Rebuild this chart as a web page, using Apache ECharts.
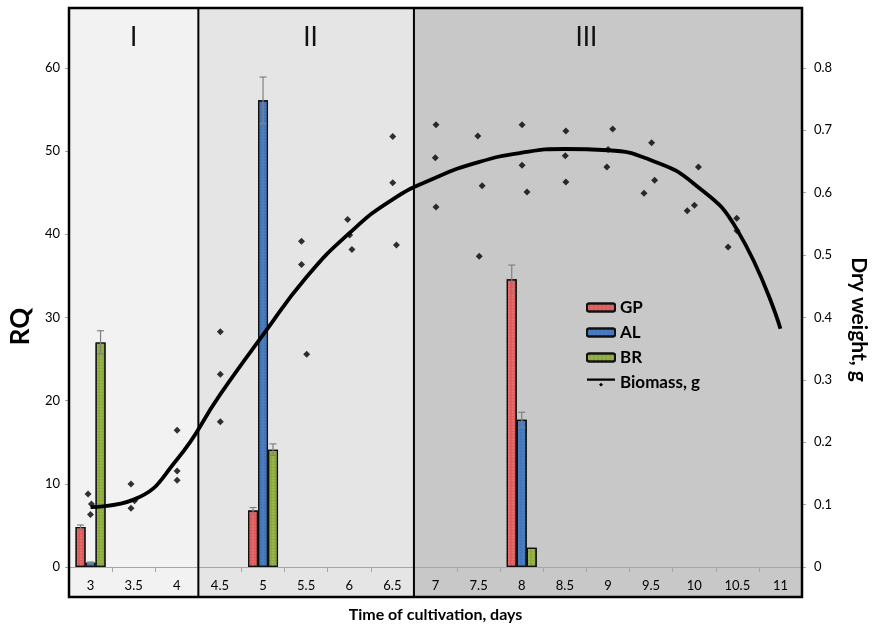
<!DOCTYPE html>
<html><head><meta charset="utf-8">
<script src="https://cdn.jsdelivr.net/npm/echarts@6/dist/echarts.min.js"></script>
<style>html,body{margin:0;padding:0;background:#fff}#c{width:877px;height:628px}</style>
</head><body><div id="c"></div>
<script>
// ---- data ----
const days = ['3','3.5','4','4.5','5','5.5','6','6.5','7','7.5','8','8.5','9','9.5','10','10.5','11'];
const gp    = [4.8, null, null, null, 6.8, null, null, null, null, null, 34.6, null, null, null, null, null, null];
const gpErr = [0.25, null, null, null, 0.35, null, null, null, null, null, 1.7, null, null, null, null, null, null];
const al    = [0.5, null, null, null, 56.1, null, null, null, null, null, 17.7, null, null, null, null, null, null];
const alErr = [0.1, null, null, null, 2.8, null, null, null, null, null, 0.9, null, null, null, null, null, null];
const br    = [27.0, null, null, null, 14.1, null, null, null, null, null, 2.3, null, null, null, null, null, null];
const brErr = [1.4, null, null, null, 0.7, null, null, null, null, null, 0, null, null, null, null, null, null];
const biomassFit = [0.096,0.108,0.172,0.276,0.372,0.464,0.535,0.589,0.624,0.649,0.664,0.670,0.668,0.652,0.614,0.540,0.382];
const biomassX = [2.971,3.010,2.999,3.469,3.510,3.469,4.004,4.004,4.004,4.505,4.505,4.505,5.446,5.446,5.506,5.981,6.004,6.031,6.504,6.504,6.547,7.006,6.998,7.006,7.491,7.541,7.507,8.004,8.004,8.061,8.512,8.505,8.512,9.055,9.001,8.987,9.506,9.541,9.418,10.049,10.003,9.919,10.493,10.496,10.393];
const biomassY = [0.117,0.101,0.084,0.133,0.106,0.094,0.219,0.154,0.139,0.377,0.309,0.233,0.522,0.485,0.341,0.557,0.532,0.509,0.690,0.616,0.516,0.709,0.656,0.577,0.691,0.611,0.498,0.709,0.644,0.601,0.699,0.659,0.617,0.702,0.669,0.641,0.680,0.620,0.599,0.641,0.580,0.571,0.559,0.539,0.513];
const sectionNames = ['I','II','III'];
const sectionBounds = [2.75, 4.25, 6.75, 11.25];
const sectionLabelAt = [3.5, 5.55, 8.75];
const rqTicks = {min:0, max:67.2, interval:10};
const dwTicks = {min:0, max:0.896, interval:0.1};

// ---- styles ----
const FONT = 'Lato';
const sectionFill = ['#f2f2f2','#e5e5e5','#c8c8c8'];
const BARW = 10;

function errData(vals, errs){
  const out = [];
  vals.forEach((v,i)=>{ if (v!=null && errs[i]) out.push([i, v, errs[i]]); });
  return out;
}
function errRender(offset){
  return function(params, api){
    const i = api.value(0), v = api.value(1), e = api.value(2);
    const x = api.coord([i, v])[0] + offset;
    const top = api.coord([i, v + e])[1], bot = api.coord([i, v - e])[1];
    const st = {stroke:'#808080', lineWidth:1.2};
    return {type:'group', children:[
      {type:'line', shape:{x1:x,y1:top,x2:x,y2:bot}, style:st},
      {type:'line', shape:{x1:x-3.5,y1:top,x2:x+3.5,y2:top}, style:st},
      {type:'line', shape:{x1:x-3.5,y1:bot,x2:x+3.5,y2:bot}, style:st}
    ]};
  };
}
function decal(c){
  return {symbol:'rect', symbolSize:0.6, color:c, dashArrayX:[[2,2]], dashArrayY:[2,1]};
}

const chart = echarts.init(document.getElementById('c'), null, {renderer:'canvas'});
const axisGray = '#a6a6a6';
const option = {
  animation:false,
  textStyle:{fontFamily:FONT},
  grid:{left:69, right:67, top:8, bottom:58},
  legend:{
    orient:'vertical', left:581, top:294, itemWidth:28, itemHeight:8, itemGap:8,
    symbolKeepAspect:false,
    textStyle:{fontFamily:FONT, fontSize:17, fontWeight:'bold', color:'#000'},
    data:['GP','AL','BR',{name:'Biomass, g', icon:'path://M0,0 L28,0 L28,3 L0,3 Z M14,6 L16,8.5 L14,11 L12,8.5 Z'}]
  },
  xAxis:[{
    type:'category', data:days, boundaryGap:true,
    axisLine:{lineStyle:{color:axisGray, width:1}},
    axisTick:{show:true, length:5, lineStyle:{color:axisGray}},
    axisLabel:{color:'#000', fontSize:13, margin:12, fontFamily:FONT},
    name:'Time of cultivation, days', nameLocation:'middle', nameGap:40,
    nameTextStyle:{fontSize:16, fontWeight:'bold', color:'#000', fontFamily:FONT}
  },{
    type:'value', min:sectionBounds[0], max:sectionBounds[3], show:false
  }],
  yAxis:[{
    type:'value', min:rqTicks.min, max:rqTicks.max, interval:rqTicks.interval,
    axisLine:{show:false}, splitLine:{show:false},
    axisTick:{show:true, length:4, lineStyle:{color:axisGray}},
    axisLabel:{color:'#000', fontSize:13, margin:9, showMaxLabel:false, fontFamily:FONT},
    name:'RQ', nameLocation:'middle', nameGap:31,
    nameTextStyle:{fontSize:26, fontWeight:'bold', color:'#000', fontFamily:FONT, padding:[0,78,0,0]}
  },{
    type:'value', position:'right', min:dwTicks.min, max:dwTicks.max, interval:dwTicks.interval,
    axisLine:{show:false}, splitLine:{show:false},
    axisTick:{show:true, length:4, lineStyle:{color:axisGray}},
    axisLabel:{color:'#000', fontSize:13, margin:12, showMaxLabel:false, fontFamily:FONT,
      formatter:v=>String(Math.round(v*10)/10)},
    name:'Dry weight, g', nameLocation:'middle', nameGap:46, nameRotate:-90,
    nameTextStyle:{fontSize:21, fontWeight:'bold', color:'#000', fontFamily:FONT, padding:[0,0,0,64]}
  }],
  series:[
    {name:'GP', type:'bar', data:gp, barWidth:BARW, barGap:'0%', z:3,
      itemStyle:{color:'#de5c5c', borderColor:'#111', borderWidth:1.2, decal:decal('rgba(255,200,200,0.55)')}},
    {name:'AL', type:'bar', data:al, barWidth:BARW, barGap:'0%', z:3,
      itemStyle:{color:'#4a7cc0', borderColor:'#111', borderWidth:1.2, decal:decal('rgba(30,60,120,0.45)')}},
    {name:'BR', type:'bar', data:br, barWidth:BARW, barGap:'0%', z:3,
      itemStyle:{color:'#8cab3c', borderColor:'#111', borderWidth:1.2, decal:decal('rgba(230,240,190,0.55)')}},
    {type:'custom', renderItem:errRender(-BARW), data:errData(gp,gpErr), encode:{x:0,y:1}, z:5, silent:true},
    {type:'custom', renderItem:errRender(0), data:errData(al,alErr), encode:{x:0,y:1}, z:5, silent:true},
    {type:'custom', renderItem:errRender(BARW), data:errData(br,brErr), encode:{x:0,y:1}, z:5, silent:true},
    {name:'Biomass, g', type:'line', data:biomassFit, yAxisIndex:1, smooth:0.5, symbol:'none',
      lineStyle:{color:'#000', width:3.8}, itemStyle:{color:'#000'}, z:6},
    {name:'Biomass points', type:'scatter', xAxisIndex:1, yAxisIndex:1,
      data:biomassX.map((x,i)=>[x, biomassY[i]]), symbol:'diamond', symbolSize:7,
      itemStyle:{color:'#000'}, z:7}
  ]
};
chart.setOption(option);

// frame, section shading and dividers positioned from the axes
const px = v => chart.convertToPixel({xAxisIndex:1}, v);
const yTop = chart.convertToPixel({yAxisIndex:0}, rqTicks.max);
const y0 = chart.convertToPixel({yAxisIndex:0}, 0);
const yBot = y0 + 30;
const g = [];
for (let s=0; s<sectionNames.length; s++){
  const a = px(sectionBounds[s]), b = px(sectionBounds[s+1]);
  g.push({type:'rect', shape:{x:a, y:yTop, width:b-a, height:yBot-yTop}, style:{fill:sectionFill[s]}, z:-10, silent:true});
  g.push({type:'text', x:px(sectionLabelAt[s]), y:yTop+30, z:50, silent:true,
    style:{text:sectionNames[s], font:'26px '+FONT, fill:'#111', textAlign:'center', textVerticalAlign:'middle'}});
}
for (let s=1; s<sectionBounds.length-1; s++){
  const x = px(sectionBounds[s]);
  g.push({type:'line', shape:{x1:x, y1:yTop, x2:x, y2:yBot}, style:{stroke:'#000', lineWidth:2}, z:100, silent:true});
}
g.push({type:'rect', shape:{x:px(sectionBounds[0]), y:yTop, width:px(sectionBounds[3])-px(sectionBounds[0]), height:yBot-yTop},
  style:{fill:'none', stroke:'#000', lineWidth:2.5}, z:100, silent:true});
chart.setOption({graphic:g});
</script></body></html>
